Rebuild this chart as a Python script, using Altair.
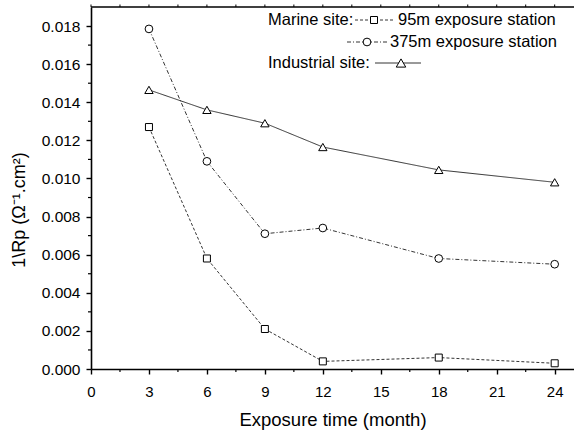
import altair as alt
import pandas as pd

# ---- data ----
months = [3, 6, 9, 12, 18, 24]
marine_95m = [0.0127, 0.0058, 0.0021, 0.0004, 0.0006, 0.0003]
marine_375m = [0.01785, 0.0109, 0.0071, 0.0074, 0.0058, 0.0055]
industrial = [0.01465, 0.0136, 0.0129, 0.01165, 0.01045, 0.0098]
series_names = ["95m exposure station", "375m exposure station", "Industrial site"]

x_major = [0, 3, 6, 9, 12, 15, 18, 21, 24]
x_minor = [1.5, 4.5, 7.5, 10.5, 13.5, 16.5, 19.5, 22.5]
x_all = [0, 1.5, 3, 4.5, 6, 7.5, 9, 10.5, 12, 13.5, 15, 16.5, 18, 19.5, 21, 22.5, 24]
y_major = [0.000, 0.002, 0.004, 0.006, 0.008, 0.010, 0.012, 0.014, 0.016, 0.018]
y_minor = [0.001, 0.003, 0.005, 0.007, 0.009, 0.011, 0.013, 0.015, 0.017]

legend_site_marine = "Marine site:"
legend_site_industrial = "Industrial site:"
legend_95 = "95m exposure station"
legend_375 = "375m exposure station"

x_title = "Exposure time (month)"
y_title = "1\\Rp (\u03a9\u207b\u00b9.cm\u00b2)"

FONT = "Liberation Sans"
W, H = 483, 362

rows = []
for name, vals in zip(series_names, [marine_95m, marine_375m, industrial]):
    for m, v in zip(months, vals):
        rows.append({"month": m, "value": v, "series": name})
df = pd.DataFrame(rows)

xscale = alt.Scale(domain=[0, 25], nice=False, zero=False)
yscale = alt.Scale(domain=[0, 0.019], nice=False, zero=False)

dash_scale = alt.Scale(domain=series_names, range=[[3, 2], [4, 2, 1, 2], [1, 0]])
shape_scale = alt.Scale(domain=series_names, range=["square", "circle", "triangle-up"])
size_scale = alt.Scale(domain=series_names, range=[49, 70, 100])

lines = alt.Chart(df).mark_line(color="black", strokeWidth=0.8).encode(
    x=alt.X("month:Q", scale=xscale,
            axis=alt.Axis(values=x_major, format="d", title=x_title, grid=False,
                          domainColor="black", domainWidth=1.6, tickColor="black",
                          tickWidth=1.4, tickSize=5, labelFont=FONT, labelFontSize=15,
                          labelColor="black", labelPadding=10, labelFlush=False,
                          titleFont=FONT, titleFontSize=18.5, titleFontWeight="normal",
                          titleColor="black", titlePadding=11)),
    y=alt.Y("value:Q", scale=yscale,
            axis=alt.Axis(values=y_major, format=".3f", title=None, grid=False,
                          domainColor="black", domainWidth=1.6, tickColor="black",
                          tickWidth=1.4, tickSize=5, labelFont=FONT, labelFontSize=15.5,
                          labelColor="black", labelPadding=6, labelFlush=False)),
    strokeDash=alt.StrokeDash("series:N", scale=dash_scale, legend=None),
    detail="series:N",
)

points = alt.Chart(df).mark_point(filled=True, fill="white", stroke="black",
                                   strokeWidth=1, opacity=1).encode(
    x=alt.X("month:Q", scale=xscale),
    y=alt.Y("value:Q", scale=yscale),
    shape=alt.Shape("series:N", scale=shape_scale, legend=None),
    size=alt.Size("series:N", scale=size_scale, legend=None),
)

xminor = alt.Chart(pd.DataFrame({"t": x_minor})).mark_rule(
    color="black", strokeWidth=1.2).encode(
    x=alt.X("t:Q", scale=xscale), y=alt.value(H), y2=alt.value(H + 3))
yminor = alt.Chart(pd.DataFrame({"t": y_minor})).mark_rule(
    color="black", strokeWidth=1.2).encode(
    y=alt.Y("t:Q", scale=yscale), x=alt.value(-3), x2=alt.value(0))

one = pd.DataFrame({"k": [0]})

top_frame = alt.Chart(one).mark_rule(color="black", strokeWidth=1.6).encode(
    x=alt.value(0), x2=alt.value(W + 2), y=alt.value(0))
top_ticks = alt.Chart(pd.DataFrame({"t": x_all})).mark_rule(
    color="black", strokeWidth=1).encode(
    x=alt.X("t:Q", scale=xscale), y=alt.value(-2.5), y2=alt.value(0))

y_title_mark = alt.Chart(one).mark_text(
    text=y_title, angle=270, align="center", baseline="middle",
    font=FONT, fontSize=18, color="black").encode(
    x=alt.value(-71), y=alt.value(203))


def label(text, x, y):
    return alt.Chart(one).mark_text(text=text, align="left", baseline="middle",
                                    font=FONT, fontSize=16.5, color="black").encode(
        x=alt.value(x), y=alt.value(y))


def sample(dash, x1, x2, y, shape, size, xs):
    ln = alt.Chart(one).mark_rule(color="black", strokeWidth=0.8, strokeDash=dash).encode(
        x=alt.value(x1), x2=alt.value(x2), y=alt.value(y))
    pt = alt.Chart(one).mark_point(shape=shape, size=size, filled=True, fill="white",
                                   stroke="black", strokeWidth=1, opacity=1).encode(
        x=alt.value(xs), y=alt.value(y))
    return [ln, pt]


legend_layers = [
    label(legend_site_marine, 177, 13),
    *sample([3, 2], 264, 302, 13, "square", 49, 283),
    label(legend_95, 307, 13),
    *sample([4, 2, 1, 2], 256, 296, 35, "circle", 60, 276),
    label(legend_375, 299, 35),
    label(legend_site_industrial, 177, 56),
    *sample([1, 0], 284, 330, 56, "triangle-up", 90, 310),
]

chart = alt.layer(lines, points, xminor, yminor, top_frame, top_ticks, y_title_mark,
                  *legend_layers).properties(
    width=W, height=H,
    autosize=alt.AutoSizeParams(type="none"),
    padding={"left": 91, "top": 7, "right": 0, "bottom": 62},
    background="white",
).configure_view(stroke=None)

chart.save("out.html", embed_options={"renderer": "svg", "actions": False})
